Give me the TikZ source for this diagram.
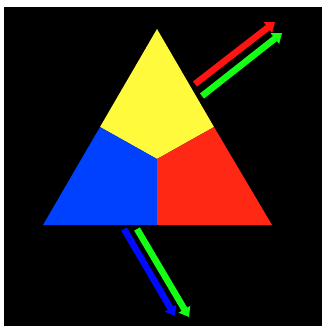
\documentclass[tikz,border=0pt]{standalone}
\usetikzlibrary{arrows.meta}
\definecolor{py}{RGB}{255,250,60}
\definecolor{pb}{RGB}{0,64,255}
\definecolor{pr}{RGB}{255,40,20}
\definecolor{ag}{RGB}{20,255,20}
\definecolor{ar}{RGB}{255,20,20}
\definecolor{ab}{RGB}{0,10,255}
\tikzset{ray/.style={line width=6.5pt,-{Triangle[length=9pt,width=13pt]}}}
\begin{document}
\begin{tikzpicture}[x=1pt,y=-1pt]
\useasboundingbox (0,0) rectangle (322,326);
\fill[white] (0,0) rectangle (322,326);
\fill[black] (4,7) rectangle (322,326);
\coordinate (A) at (157,29);
\coordinate (L) at (43,225);
\coordinate (R) at (272,225);
\coordinate (C) at (157,159);
\coordinate (ML) at (100,127);
\coordinate (MR) at (214,127);
\coordinate (MB) at (157,225);
\fill[py] (A) -- (MR) -- (C) -- (ML) -- cycle;
\fill[pb] (ML) -- (C) -- (MB) -- (L) -- cycle;
\fill[pr] (MR) -- (R) -- (MB) -- (C) -- cycle;
\coordinate (r1) at (195,84);
\coordinate (r2) at (275,22);
\coordinate (g1) at (202,96);
\coordinate (g2) at (282,33);
\coordinate (b1) at (124,229);
\coordinate (b2) at (175,316);
\coordinate (h1) at (137,229);
\coordinate (h2) at (189,317);
\draw[ray,ar] (r1) -- (r2);
\draw[ray,ag] (g1) -- (g2);
\draw[ray,ab] (b1) -- (b2);
\draw[ray,ag] (h1) -- (h2);
\end{tikzpicture}
\end{document}
